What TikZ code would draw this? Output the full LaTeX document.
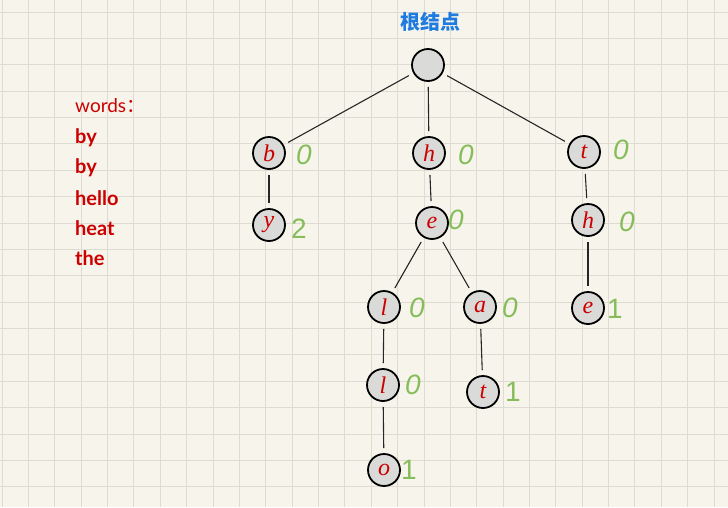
\documentclass[tikz,border=0pt]{standalone}
\usepackage{fontspec}
\setmainfont{Liberation Serif}
\newfontfamily\cjkfont{Noto Sans CJK SC}
\newfontfamily\wordfont{Lato}
\newfontfamily\numfont{Liberation Sans}
\definecolor{paper}{HTML}{F7F5EB}
\definecolor{gridc}{HTML}{DEDCD2}
\definecolor{titleblue}{HTML}{1E7BE0}
\definecolor{wordred}{HTML}{CC0000}
\definecolor{cntgreen}{HTML}{86BD5A}
\definecolor{nodefill}{HTML}{DADAD8}
\tikzset{
  tnode/.style={circle, draw=black, line width=1.8pt, fill=nodefill, minimum size=32pt, inner sep=0pt,
    text=wordred, font=\fontsize{24}{24}\selectfont\itshape},
  cnt/.style={text=cntgreen, font=\numfont\fontsize{28}{28}\selectfont\itshape, inner sep=0pt},
  cntup/.style={text=cntgreen, font=\numfont\fontsize{28}{28}\selectfont, inner sep=0pt},
  edge/.style={line width=1.1pt, draw=black!85, shorten >=5pt, shorten <=5pt},
  wrd/.style={text=wordred, font=\wordfont\bfseries\fontsize{20}{22}\selectfont, anchor=west, inner sep=0pt}
}
\begin{document}
\begin{tikzpicture}[x=1pt,y=-1pt]
\fill[paper] (0,0) rectangle (728,507);
\useasboundingbox (0,0) rectangle (728,507);
\foreach \i in {0,...,27} {\draw[gridc, line width=0.8pt] ({2+26.37*\i},0) -- ({2+26.37*\i},507);}
\foreach \j in {0,...,19} {\draw[gridc, line width=0.8pt] (0,{12+26.37*\j}) -- (728,{12+26.37*\j});}

\node[text=titleblue, font=\cjkfont\bfseries\fontsize{20}{20}\selectfont] (title) at (430,22) {根结点};

\node[wrd, font=\wordfont\fontsize{19}{22}\selectfont] (w0) at (75,106) {words\cjkfont ：};
\node[wrd] (w1) at (75,138) {by};
\node[wrd] (w2) at (75,168) {by};
\node[wrd] (w3) at (75,198) {hello};
\node[wrd] (w4) at (75,228) {heat};
\node[wrd] (w5) at (75,258) {the};

\node[tnode] (root) at (428,65) {};
\node[tnode] (b) at (269,153) {b};
\node[tnode] (h) at (429,153) {h};
\node[tnode] (t) at (584,152) {t};
\node[tnode] (y) at (269,225) {y};
\node[tnode] (e) at (432,223) {e};
\node[tnode] (th) at (588,220) {h};
\node[tnode] (l1) at (384,307) {l};
\node[tnode] (a) at (480,307) {a};
\node[tnode] (te) at (588,308) {e};
\node[tnode] (l2) at (383,385) {l};
\node[tnode] (t2) at (483,392) {t};
\node[tnode] (o) at (384,470) {o};

\node[cnt] (cb) at (304,155) {0};
\node[cnt] (ch) at (466,155) {0};
\node[cnt] (ct) at (621,150) {0};
\node[cntup] (cy) at (299,229) {2};
\node[cnt] (ce) at (456,220) {0};
\node[cnt] (cth) at (627,222) {0};
\node[cntup] (cte) at (615,309) {1};
\node[cnt] (cl1) at (417,308) {0};
\node[cnt] (ca) at (510,308) {0};
\node[cnt] (cl2) at (413,385) {0};
\node[cntup] (ct2) at (513,392) {1};
\node[cntup] (co) at (409,470) {1};

\draw[edge] (root) -- (b);
\draw[edge] (root) -- (h);
\draw[edge] (root) -- (t);
\draw[edge] (b) -- (y);
\draw[edge] (h) -- (e);
\draw[edge] (e) -- (l1);
\draw[edge] (e) -- (a);
\draw[edge] (l1) -- (l2);
\draw[edge] (l2) -- (o);
\draw[edge] (a) -- (t2);
\draw[edge] (t) -- (th);
\draw[edge] (th) -- (te);
\end{tikzpicture}
\end{document}
